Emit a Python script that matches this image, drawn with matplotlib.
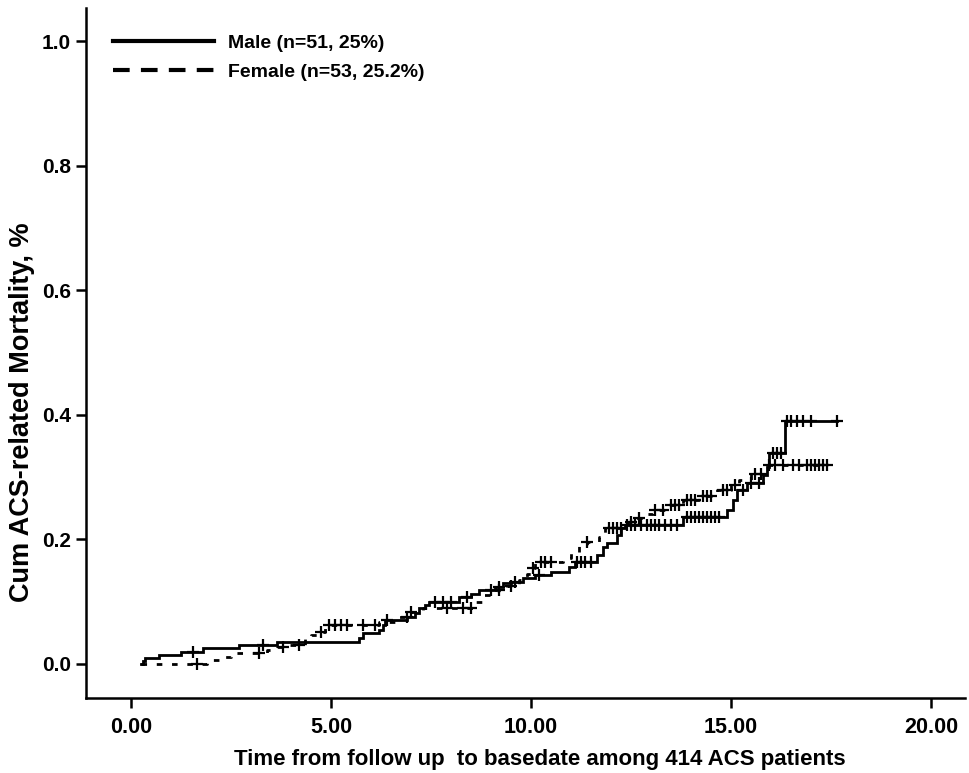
import numpy as np
import matplotlib
matplotlib.use("Agg")
import matplotlib.pyplot as plt
from matplotlib.lines import Line2D

# ---------------- data ----------------
start_time = 0.25
male_event_t = [0.30, 0.35, 0.70, 1.25, 1.80, 2.70, 3.65, 5.70, 5.80, 6.20, 6.30, 6.35,
                6.90, 7.10, 7.20, 7.35, 7.45, 8.20, 8.50, 8.70, 9.10, 9.30, 9.50, 9.80,
                10.10, 10.50, 10.95, 11.10, 11.65, 11.80, 11.90, 12.15, 12.25, 12.35,
                13.80, 14.90, 15.05, 15.15, 15.40, 15.80, 15.90, 15.95, 16.35]
male_event_v = [0.004, 0.009, 0.014, 0.020, 0.025, 0.030, 0.035, 0.042, 0.050, 0.055,
                0.063, 0.071, 0.076, 0.082, 0.090, 0.095, 0.100, 0.108, 0.113, 0.119,
                0.124, 0.130, 0.132, 0.138, 0.143, 0.148, 0.155, 0.164, 0.175, 0.188,
                0.195, 0.207, 0.218, 0.223, 0.236, 0.247, 0.263, 0.280, 0.290, 0.303,
                0.316, 0.339, 0.390]
male_end = 17.65
male_censor = [1.55, 3.30, 6.40, 6.90, 7.60, 7.80, 8.00, 8.40, 9.20, 9.60, 10.20,
               11.15, 11.25, 11.35, 11.50, 12.40, 12.50, 12.60, 12.75, 12.90, 13.00,
               13.10, 13.20, 13.35, 13.50, 13.65, 13.90, 14.00, 14.10, 14.20, 14.30,
               14.40, 14.50, 14.60, 14.70, 15.30, 15.50, 15.70, 16.05, 16.15, 16.25,
               16.40, 16.50, 16.65, 16.80, 17.00, 17.65]

female_event_t = [1.90, 2.30, 2.50, 3.40, 3.65, 3.90, 4.35, 4.50, 4.70, 4.85, 6.20,
                  6.60, 7.00, 7.30, 8.60, 8.80, 9.00, 9.40, 9.70, 9.90, 10.00, 10.10,
                  10.80, 11.00, 11.20, 11.40, 11.70, 11.85, 12.40, 12.60, 12.90, 13.05,
                  13.40, 13.80, 14.20, 14.65, 15.00, 15.20, 15.50, 15.85]
female_event_v = [0.006, 0.011, 0.017, 0.022, 0.027, 0.031, 0.040, 0.046, 0.052, 0.063,
                  0.068, 0.075, 0.083, 0.090, 0.100, 0.110, 0.118, 0.125, 0.135, 0.145,
                  0.154, 0.164, 0.170, 0.180, 0.190, 0.196, 0.204, 0.218, 0.228, 0.235,
                  0.240, 0.247, 0.255, 0.263, 0.270, 0.279, 0.287, 0.295, 0.305, 0.320]
female_end = 17.40
female_censor = [1.65, 3.20, 3.80, 4.20, 4.75, 4.95, 5.10, 5.25, 5.40, 5.80, 6.10, 7.00,
                 7.90, 8.30, 8.50, 9.00, 9.20, 9.50, 10.05, 10.25, 10.35, 10.50, 11.40,
                 11.95, 12.05, 12.15, 12.25, 12.50, 12.70, 13.10, 13.30, 13.50, 13.60,
                 13.70, 13.90, 14.00, 14.10, 14.30, 14.40, 14.50, 14.80, 14.90, 15.10,
                 15.60, 15.75, 15.95, 16.10, 16.30, 16.55, 16.70, 16.90, 17.00, 17.10,
                 17.20, 17.30, 17.40]

labels = ["Male (n=51, 25%)", "Female (n=53, 25.2%)"]
x_ticks = [0, 5, 10, 15, 20]
y_ticks = [0.0, 0.2, 0.4, 0.6, 0.8, 1.0]
x_label = "Time from follow up  to basedate among 414 ACS patients"
y_label = "Cum ACS-related Mortality, %"

# ---------------- helpers ----------------
def step_arrays(ev_t, ev_v, end):
    t = np.concatenate([[start_time], ev_t, [end]])
    v = np.concatenate([[0.0], ev_v, [ev_v[-1]]])
    return t, v

def value_at(ev_t, ev_v, times):
    ev_t = np.asarray(ev_t); ev_v = np.concatenate([[0.0], ev_v])
    idx = np.searchsorted(ev_t, times, side="right")
    return ev_v[idx]

plt.rcParams['font.family'] = ['Liberation Sans', 'DejaVu Sans']

fig = plt.figure(figsize=(9.70, 7.73), dpi=100)
ax = fig.add_axes([86/970, 75/773, 879/970, 690/773])

mt, mv = step_arrays(male_event_t, male_event_v, male_end)
ft, fv = step_arrays(female_event_t, female_event_v, female_end)

ax.step(mt, mv, where="post", color="black", lw=2.0, solid_joinstyle="miter")
ax.step(ft, fv, where="post", color="black", lw=2.0, linestyle=(0, (2.0, 3.5)))

ax.plot(male_censor, value_at(male_event_t, male_event_v, male_censor), ls="none",
        marker="+", ms=9, mew=1.6, color="black")
ax.plot(female_censor, value_at(female_event_t, female_event_v, female_censor), ls="none",
        marker="+", ms=9, mew=1.6, color="black")

ax.set_xlim(-1.125, 20.85)
ax.set_ylim(-0.0546, 1.053)
ax.set_xticks(x_ticks)
ax.set_xticklabels([f"{v:.2f}" for v in x_ticks])
ax.set_yticks(y_ticks)
ax.set_yticklabels([f"{v:.1f}" for v in y_ticks])

for s in ["top", "right"]:
    ax.spines[s].set_visible(False)
for s in ["left", "bottom"]:
    ax.spines[s].set_linewidth(1.8)

ax.tick_params(axis="both", direction="out", length=7, width=1.8, pad=4)
for lab in ax.get_xticklabels():
    lab.set_fontweight("bold"); lab.set_fontsize(15.5)
for lab in ax.get_yticklabels():
    lab.set_fontweight("bold"); lab.set_fontsize(15)
ax.tick_params(axis="x", pad=7)

fig.text(540/970, 1 - 759/773, x_label, fontsize=16, fontweight="bold",
         ha="center", va="center")
fig.text(22/970, 1 - 412/773, y_label, fontsize=19.5, fontweight="bold",
         ha="center", va="center", rotation=90)

handles = [Line2D([], [], color="black", lw=3.0),
           Line2D([], [], color="black", lw=3.0, linestyle=(0, (4.0, 2.7)))]
ax.legend(handles, labels, loc="upper left", bbox_to_anchor=(0.031, 0.962),
          frameon=False, handlelength=5.2, handletextpad=0.7, borderaxespad=0,
          borderpad=0, labelspacing=0.6, prop={"size": 14, "weight": "bold"})

fig.savefig("out.png", dpi=100)
